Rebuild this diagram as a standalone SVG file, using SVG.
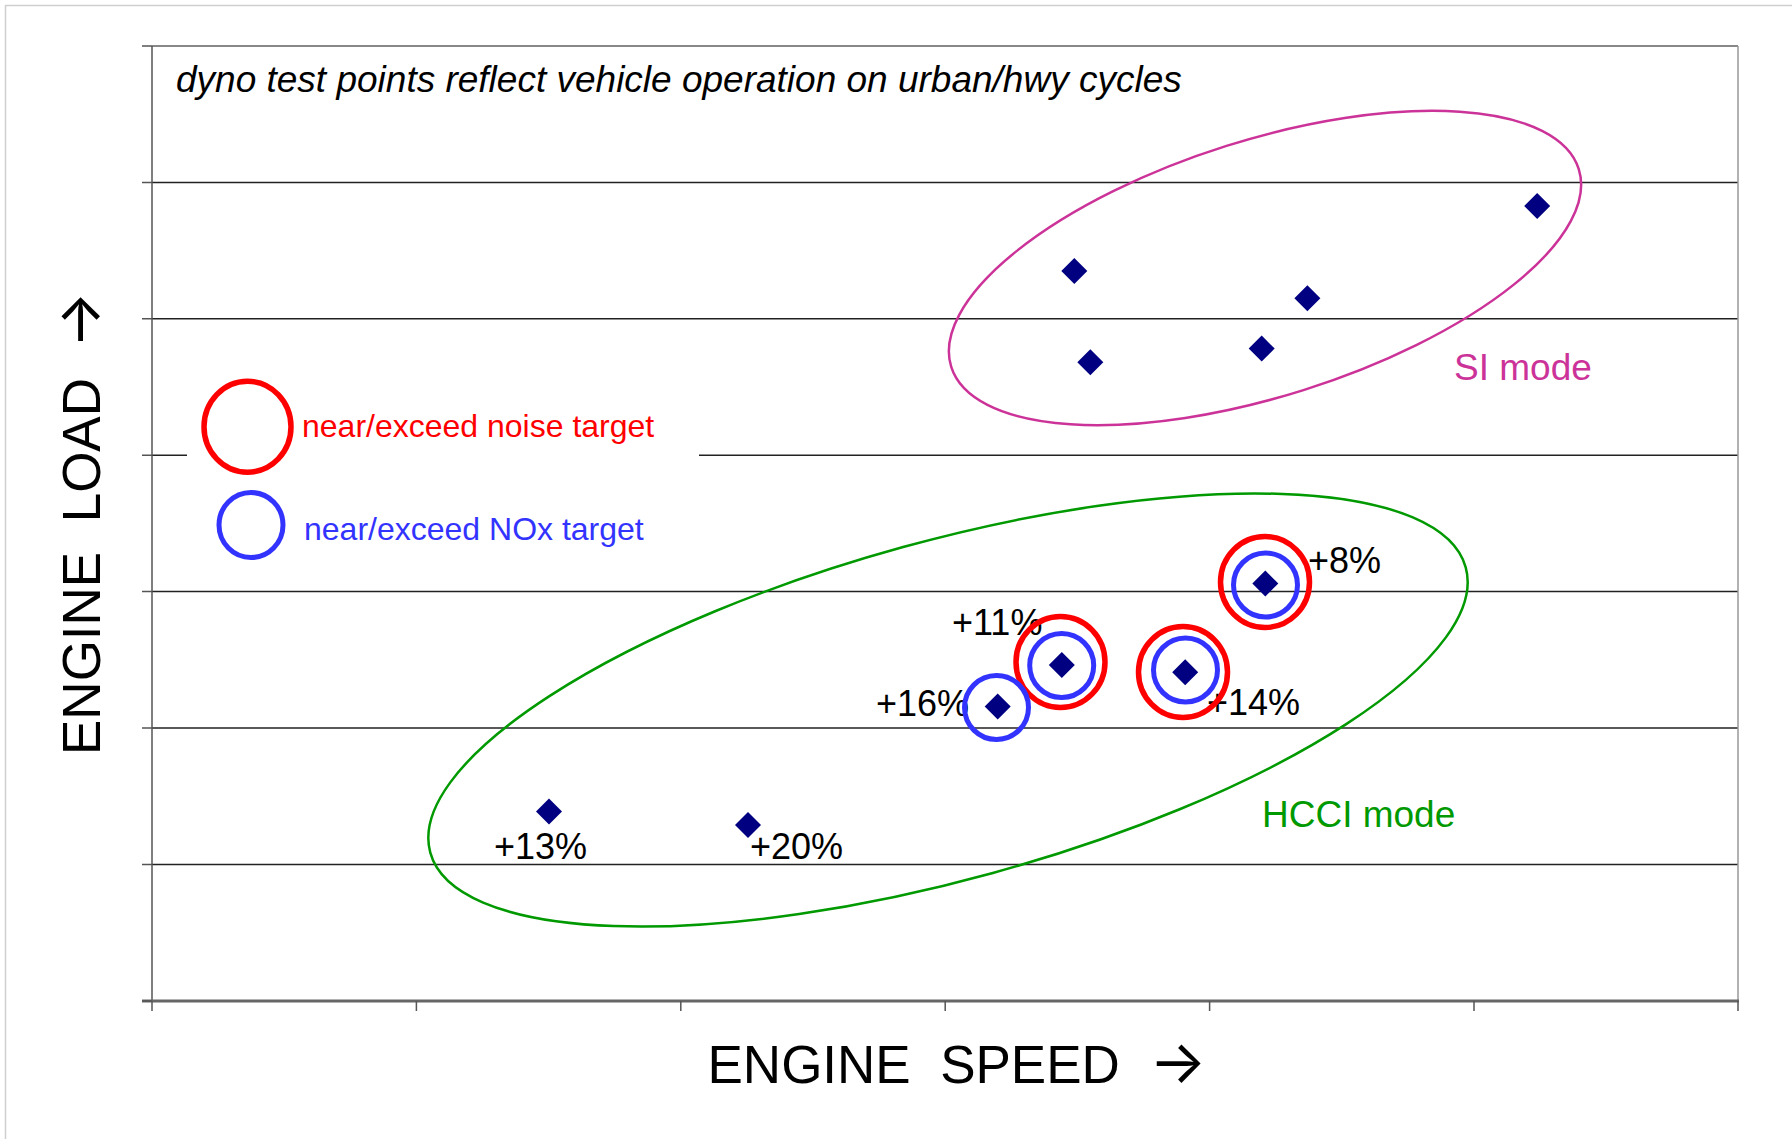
<svg xmlns="http://www.w3.org/2000/svg" width="1792" height="1139" viewBox="0 0 1792 1139">
  <style>
    .grid { stroke: #222; stroke-width: 1.5; fill: none; }
    .tick { stroke: #555; stroke-width: 1.5; fill: none; }
    .pct { font-family: "Liberation Sans", Arial, sans-serif; font-size: 36px; fill: #000; }
    .axislbl { font-family: "Liberation Sans", Arial, sans-serif; font-size: 53px; fill: #000; }
    .arr { font-family: Inter, "DejaVu Sans", sans-serif; font-size: 60px; }
    .noise { fill: none; stroke: #FF0000; stroke-width: 5.5; }
    .nox { fill: none; stroke: #3333FF; stroke-width: 5; }
  </style>
  <defs>
    <path id="dia" d="M0,-13 L13,0 L0,13 L-13,0 Z" fill="#000080"/>
  </defs>
  <rect x="0" y="0" width="1792" height="1139" fill="#fff"/>
  <g id="frame">
    <line x1="5" y1="5.5" x2="1792" y2="5.5" stroke="#cfcfcf" stroke-width="1.5"/>
    <line x1="5.5" y1="5" x2="5.5" y2="1139" stroke="#cfcfcf" stroke-width="1.5"/>
  </g>
  <g id="grid">
    <line class="grid" x1="152" y1="182.4" x2="1738" y2="182.4"/>
    <line class="grid" x1="152" y1="318.8" x2="1738" y2="318.8"/>
    <line class="grid" x1="152" y1="455.2" x2="1738" y2="455.2"/>
    <line class="grid" x1="152" y1="591.6" x2="1738" y2="591.6"/>
    <line class="grid" x1="152" y1="728" x2="1738" y2="728"/>
    <line class="grid" x1="152" y1="864.4" x2="1738" y2="864.4"/>
  </g>
  <g id="axes">
    <line x1="152" y1="46" x2="1738" y2="46" stroke="#888" stroke-width="2"/>
    <line x1="1738" y1="46" x2="1738" y2="1001" stroke="#999" stroke-width="1.5"/>
    <line x1="152" y1="46" x2="152" y2="1001" stroke="#555" stroke-width="1.5"/>
    <line x1="142" y1="1001" x2="1739" y2="1001" stroke="#666" stroke-width="3"/>
    <path class="tick" d="M142,46H152 M142,182.4H152 M142,318.8H152 M142,455.2H152 M142,591.6H152 M142,728H152 M142,864.4H152 M142,1001H152"/>
    <path class="tick" d="M152,1001V1011 M416.4,1001V1011 M680.8,1001V1011 M945.2,1001V1011 M1209.6,1001V1011 M1474,1001V1011 M1738,1001V1011"/>
  </g>
  <g id="si-mode">
    <ellipse cx="1265" cy="268" rx="329" ry="128" transform="rotate(-17.5 1265 268)" fill="none" stroke="#CC3399" stroke-width="2.5"/>
    <text x="1454" y="380" font-family="Liberation Sans, Arial, sans-serif" font-size="37" fill="#CC3399">SI mode</text>
  </g>
  <g id="hcci-mode">
    <ellipse cx="948" cy="710" rx="537" ry="169" transform="rotate(-15.4 948 710)" fill="none" stroke="#009900" stroke-width="2.5"/>
    <text x="1262" y="827" font-family="Liberation Sans, Arial, sans-serif" font-size="37" fill="#009900">HCCI mode</text>
  </g>
  <g id="si-points">
    <use href="#dia" x="1074.3" y="270.9"/>
    <use href="#dia" x="1090.3" y="362.3"/>
    <use href="#dia" x="1261.7" y="348.6"/>
    <use href="#dia" x="1307.4" y="298.3"/>
    <use href="#dia" x="1537.2" y="206"/>
  </g>
  <g id="hcci-points">
    <use href="#dia" x="549" y="811.5"/>
    <use href="#dia" x="748" y="825"/>
    <use href="#dia" x="997.7" y="706.5"/>
    <use href="#dia" x="1061.8" y="665"/>
    <use href="#dia" x="1185.2" y="672.2"/>
    <use href="#dia" x="1265.3" y="583.5"/>
  </g>
  <g id="pct-labels">
    <text class="pct" x="1308" y="573">+8%</text>
    <text class="pct" x="952" y="635">+11%</text>
    <text class="pct" x="1207" y="715">+14%</text>
    <text class="pct" x="876" y="716">+16%</text>
    <text class="pct" x="494" y="859">+13%</text>
    <text class="pct" x="750" y="859">+20%</text>
  </g>
  <g id="target-circles">
    <ellipse class="noise" cx="1265" cy="582" rx="44.5" ry="45.5"/>
    <ellipse class="nox" cx="1265.5" cy="585" rx="32" ry="32"/>
    <ellipse class="noise" cx="1060.5" cy="662" rx="44.5" ry="45.5"/>
    <ellipse class="nox" cx="1061.7" cy="665.5" rx="32" ry="32"/>
    <ellipse class="noise" cx="1183" cy="672" rx="44.5" ry="45.5"/>
    <ellipse class="nox" cx="1185.5" cy="670" rx="32" ry="32"/>
    <ellipse class="nox" cx="996.5" cy="707.5" rx="32" ry="32"/>
  </g>
  <g id="legend">
    <rect x="187" y="330" width="512" height="259" fill="#fff"/>
    <ellipse class="noise" cx="247.5" cy="426.7" rx="43.5" ry="45.5"/>
    <text x="302" y="437" font-family="Liberation Sans, Arial, sans-serif" font-size="32" fill="#FF0000">near/exceed noise target</text>
    <ellipse class="nox" cx="251" cy="525" rx="32" ry="32.5"/>
    <text x="304" y="540" font-family="Liberation Sans, Arial, sans-serif" font-size="32" fill="#3333FF">near/exceed NOx target</text>
  </g>
  <g id="title">
    <text x="176" y="92" font-family="Liberation Sans, Arial, sans-serif" font-size="37" font-style="italic" fill="#000">dyno test points reflect vehicle operation on urban/hwy cycles</text>
  </g>
  <g id="axis-labels">
    <text class="axislbl" x="707.5" y="1083" xml:space="preserve">ENGINE  SPEED  <tspan class="arr">→</tspan></text>
    <text class="axislbl" transform="translate(100 755) rotate(-90)" x="0" y="0" xml:space="preserve">ENGINE  LOAD  <tspan class="arr">→</tspan></text>
  </g>
</svg>
